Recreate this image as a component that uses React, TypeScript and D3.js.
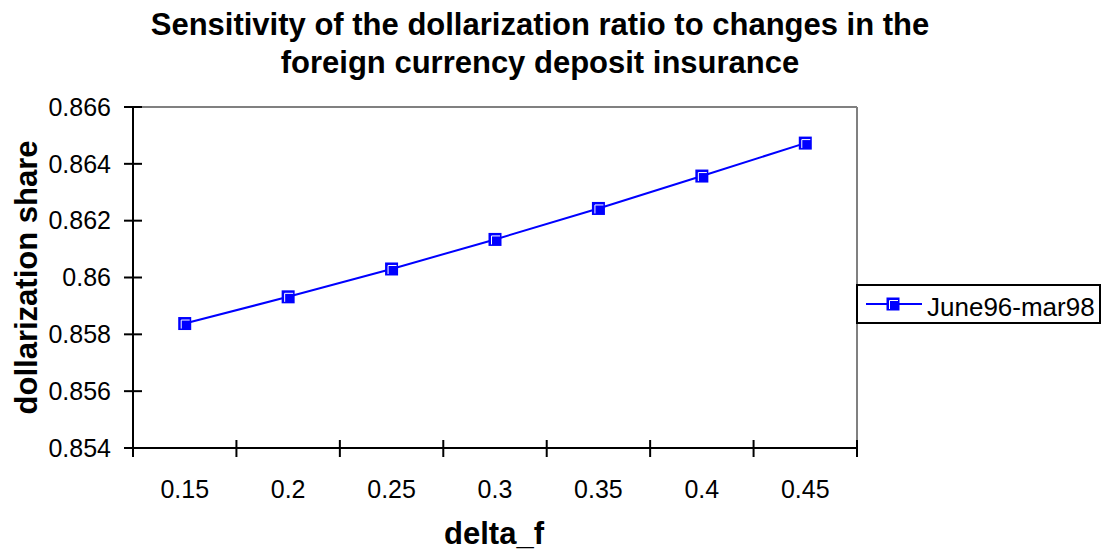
import React from "react";
import * as d3 from "d3";

const categories = ["0.15", "0.2", "0.25", "0.3", "0.35", "0.4", "0.45"];
const seriesValues = [0.85838, 0.85932, 0.8603, 0.86134, 0.86243, 0.86357, 0.86473];
const yTicks = [0.854, 0.856, 0.858, 0.86, 0.862, 0.864, 0.866];
const seriesName = "June96-mar98";
const titleLines = [
  "Sensitivity of the dollarization ratio to changes in the",
  "foreign currency deposit insurance",
];

export default function App() {
  const W = 1101, H = 552;
  const left = 133, right = 857, top = 107, bottom = 448;
  const x = d3.scaleBand<string>().domain(categories).range([left, right]);
  const y = d3.scaleLinear().domain([0.854, 0.866]).range([bottom, top]);
  const line = d3
    .line<number>()
    .x((_, i) => (x(categories[i]) as number) + x.bandwidth() / 2)
    .y((d) => y(d));
  const font = "Arial, 'Liberation Sans', sans-serif";
  const tickFormat = (v: number) => d3.format("")(+v.toFixed(3));
  const boundaries = categories.map((c) => x(c) as number).concat([right]);
  const Marker = ({ cx, cy }: { cx: number; cy: number }) => (
    <g>
      <rect x={cx - 6.5} y={cy - 6.5} width={13} height={13} fill="#0000FF" />
      <path
        d={`M${cx - 3.5},${cy + 5} L${cx - 3.5},${cy - 3.5} L${cx + 5},${cy - 3.5}`}
        stroke="#fff"
        strokeWidth={1}
        fill="none"
      />
    </g>
  );
  return (
    <svg width={W} height={H} style={{ position: "absolute", left: 0, top: 0 }} fontFamily={font}>
      <rect width={W} height={H} fill="#fff" />
      {titleLines.map((t, i) => (
        <text key={i} x={540} y={35 + i * 38} textAnchor="middle" fontSize={31} fontWeight="bold">
          {t}
        </text>
      ))}
      {/* plot border */}
      <line x1={left} y1={top} x2={right} y2={top} stroke="#808080" strokeWidth={2} />
      <line x1={right} y1={top} x2={right} y2={bottom} stroke="#808080" strokeWidth={2} />
      {/* y axis */}
      <line x1={left} y1={top - 1} x2={left} y2={bottom + 9} stroke="#000" strokeWidth={2} />
      {yTicks.map((v) => (
        <g key={v}>
          <line x1={left - 9} x2={left + 9} y1={y(v)} y2={y(v)} stroke="#000" strokeWidth={2} />
          <text x={111} y={y(v)} dy="0.35em" textAnchor="end" fontSize={25}>
            {tickFormat(v)}
          </text>
        </g>
      ))}
      {/* x axis */}
      <line x1={left - 9} y1={bottom} x2={right} y2={bottom} stroke="#000" strokeWidth={2} />
      {boundaries.map((b, i) => (
        <line key={i} x1={b} x2={b} y1={bottom - 8} y2={bottom + 9} stroke="#000" strokeWidth={2} />
      ))}
      {categories.map((c) => (
        <text key={c} x={(x(c) as number) + x.bandwidth() / 2} y={498} textAnchor="middle" fontSize={25}>
          {c}
        </text>
      ))}
      {/* axis titles */}
      <text
        transform={`translate(37,${(top + bottom) / 2}) rotate(-90)`}
        textAnchor="middle"
        fontSize={31}
        fontWeight="bold"
      >
        dollarization share
      </text>
      <text x={494} y={544} textAnchor="middle" fontSize={31} fontWeight="bold">
        delta_f
      </text>
      {/* series */}
      <path d={line(seriesValues) || ""} fill="none" stroke="#0000FF" strokeWidth={2} />
      {seriesValues.map((v, i) => (
        <Marker key={i} cx={(x(categories[i]) as number) + x.bandwidth() / 2} cy={y(v)} />
      ))}
      {/* legend */}
      <rect x={857} y={285} width={243} height={38} fill="#fff" stroke="#000" strokeWidth={2} />
      <line x1={866} x2={922} y1={304} y2={304} stroke="#0000FF" strokeWidth={2} />
      <Marker cx={893} cy={304} />
      <text x={927} y={316} fontSize={26}>
        {seriesName}
      </text>
    </svg>
  );
}
